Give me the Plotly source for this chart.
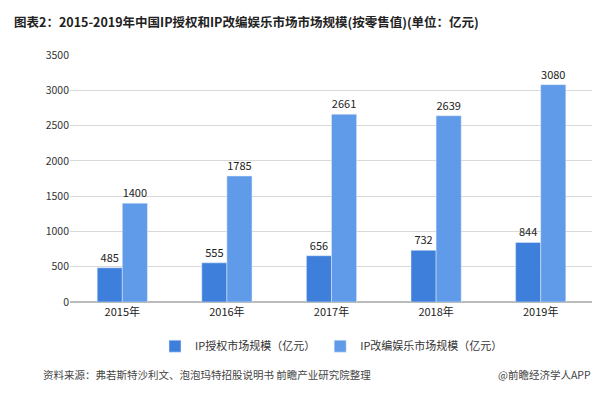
import plotly.graph_objects as go

years = ['2015年', '2016年', '2017年', '2018年', '2019年']
ip_license = [485, 555, 656, 732, 844]
ip_adapt = [1400, 1785, 2661, 2639, 3080]

font = "Noto Sans CJK SC"

fig = go.Figure()
fig.add_trace(go.Bar(
    x=years, y=ip_license, name='IP授权市场规模（亿元）',
    marker_color='#3f7fdc', text=ip_license, textposition='outside',
    textfont=dict(size=11, color='#222')
))
fig.add_trace(go.Bar(
    x=years, y=ip_adapt, name='IP改编娱乐市场规模（亿元）',
    marker_color='#5f9be8', text=ip_adapt, textposition='outside',
    textfont=dict(size=11, color='#222')
))

fig.update_layout(
    width=600, height=402,
    paper_bgcolor='white', plot_bgcolor='white',
    font=dict(family=font, size=11, color='#333'),
    title=dict(text='<b>图表2：2015-2019年中国IP授权和IP改编娱乐市场市场规模(按零售值)(单位：亿元)</b>',
               x=0.01, y=0.975, xanchor='left', font=dict(size=12.5, color='#222')),
    margin=dict(l=62, r=15, t=47, b=108, autoexpand=False),
    barmode='group', bargap=0.52, bargroupgap=0,
    legend=dict(orientation='h', x=0.5, xanchor='center', y=-0.12, yanchor='top',
                font=dict(size=11, color='#333'), itemwidth=30),
    showlegend=True,
)
fig.update_yaxes(range=[0, 3500], dtick=500, showgrid=True, gridcolor='#d9d9d9',
                 zeroline=True, zerolinecolor='#bbb', tickfont=dict(size=10.5))
fig.update_xaxes(tickfont=dict(size=11, color='#222'), showline=True, linecolor='#bbb')

fig.add_annotation(text='资料来源：弗若斯特沙利文、泡泡玛特招股说明书 前瞻产业研究院整理',
                   xref='paper', yref='paper', x=-0.055, y=-0.33, xanchor='left',
                   showarrow=False, font=dict(size=10.5, color='#444'))
fig.add_annotation(text='@前瞻经济学人APP', xref='paper', yref='paper', x=1.0, y=-0.33,
                   xanchor='right', showarrow=False, font=dict(size=10.5, color='#444'))

fig.write_html("out.html")
